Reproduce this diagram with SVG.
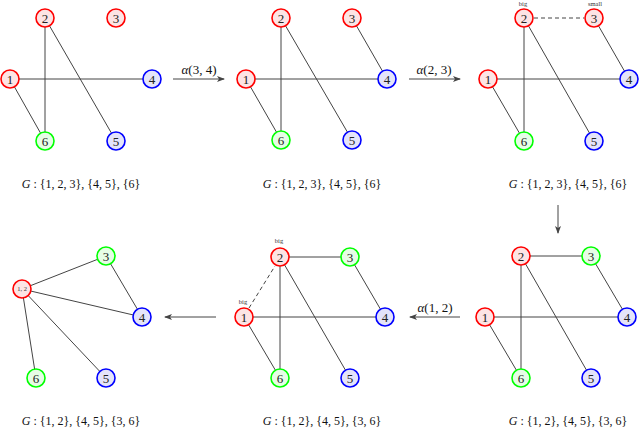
<svg xmlns="http://www.w3.org/2000/svg" width="640" height="429" viewBox="0 0 640 429">
<defs>
<style>
.e{stroke:#444;stroke-width:1;fill:none}
.d{stroke:#444;stroke-width:1;fill:none;stroke-dasharray:4,3}
.r{fill:#fde4e4;stroke:#f00;stroke-width:1.6}
.b{fill:#e4e4fa;stroke:#00f;stroke-width:1.6}
.g{fill:#e6fde6;stroke:#0f0;stroke-width:1.6}
.t{font-family:"Liberation Serif","DejaVu Serif",serif;font-size:13px;fill:#222;text-anchor:middle}
.s{font-family:"Liberation Serif","DejaVu Serif",serif;font-size:6.5px;fill:#333;text-anchor:middle}
.l{font-family:"Liberation Serif","DejaVu Serif",serif;font-size:12px;fill:#111;text-anchor:middle}
.al{font-family:"Liberation Serif","DejaVu Serif",serif;font-size:13px;fill:#111;text-anchor:middle}
.a{stroke:#444;stroke-width:1;fill:none;marker-end:url(#ah)}
</style>
<marker id="ah" viewBox="0 0 8 6" refX="7" refY="3" markerWidth="8" markerHeight="6" markerUnits="userSpaceOnUse" orient="auto">
<path d="M0,0 L8,3 L0,6 L2,3 Z" fill="#444"/>
</marker>
</defs>
<rect width="640" height="429" fill="#fff"/>
<g id="connectors">
<line class="e" x1="10" y1="79" x2="152" y2="79"/>
<line class="e" x1="10" y1="79" x2="45" y2="141"/>
<line class="e" x1="45" y1="18" x2="45" y2="141"/>
<line class="e" x1="45" y1="18" x2="116" y2="141"/>
<line class="e" x1="246" y1="79" x2="387" y2="79"/>
<line class="e" x1="246" y1="79" x2="281" y2="140"/>
<line class="e" x1="281" y1="18" x2="281" y2="140"/>
<line class="e" x1="281" y1="18" x2="352" y2="140"/>
<line class="e" x1="352" y1="18" x2="387" y2="79"/>
<line class="e" x1="488" y1="79" x2="629" y2="79"/>
<line class="e" x1="488" y1="79" x2="524" y2="141"/>
<line class="e" x1="524" y1="18" x2="524" y2="141"/>
<line class="e" x1="524" y1="18" x2="594" y2="141"/>
<line class="e" x1="594" y1="18" x2="629" y2="79"/>
<line class="d" x1="534" y1="18" x2="584" y2="18"/>
<line class="e" x1="485" y1="317" x2="627" y2="317"/>
<line class="e" x1="485" y1="317" x2="521" y2="378"/>
<line class="e" x1="521" y1="256" x2="521" y2="378"/>
<line class="e" x1="521" y1="256" x2="591" y2="378"/>
<line class="e" x1="591" y1="256" x2="627" y2="317"/>
<line class="e" x1="521" y1="256" x2="591" y2="256"/>
<line class="e" x1="244" y1="317" x2="385" y2="317"/>
<line class="e" x1="244" y1="317" x2="280" y2="378"/>
<line class="e" x1="280" y1="257" x2="280" y2="378"/>
<line class="e" x1="280" y1="257" x2="350" y2="378"/>
<line class="e" x1="350" y1="257" x2="385" y2="317"/>
<line class="e" x1="280" y1="257" x2="350" y2="257"/>
<line class="d" x1="249" y1="308" x2="275" y2="266"/>
<line class="e" x1="22" y1="289" x2="106" y2="256"/>
<line class="e" x1="22" y1="289" x2="142" y2="317"/>
<line class="e" x1="22" y1="289" x2="106" y2="378"/>
<line class="e" x1="22" y1="289" x2="36" y2="378"/>
<line class="e" x1="106" y1="256" x2="142" y2="317"/>
<line class="a" x1="173" y1="79" x2="224" y2="79"/>
<line class="a" x1="409" y1="79" x2="460" y2="79"/>
<line class="a" x1="558" y1="205" x2="558" y2="233"/>
<line class="a" x1="460" y1="317" x2="410" y2="317"/>
<line class="a" x1="216" y1="317" x2="165" y2="317"/>
</g>
<g id="arrow-labels">
<text class="al" x="199" y="74"><tspan font-style="italic">α</tspan>(3, 4)</text>
<text class="al" x="434" y="74"><tspan font-style="italic">α</tspan>(2, 3)</text>
<text class="al" x="435" y="312"><tspan font-style="italic">α</tspan>(1, 2)</text>
</g>
<g id="panel1">
<g id="p1n1"><circle class="r" cx="10" cy="79" r="9"/><text class="t" x="10" y="83.5">1</text></g>
<g id="p1n2"><circle class="r" cx="45" cy="18" r="9"/><text class="t" x="45" y="22.5">2</text></g>
<g id="p1n3"><circle class="r" cx="116" cy="18" r="9"/><text class="t" x="116" y="22.5">3</text></g>
<g id="p1n4"><circle class="b" cx="152" cy="79" r="9"/><text class="t" x="152" y="83.5">4</text></g>
<g id="p1n5"><circle class="b" cx="116" cy="141" r="9"/><text class="t" x="116" y="145.5">5</text></g>
<g id="p1n6"><circle class="g" cx="45" cy="141" r="9"/><text class="t" x="45" y="145.5">6</text></g>
<text class="l" x="81" y="188"><tspan font-style="italic">G</tspan> :  {1, 2, 3}, {4, 5}, {6}</text>
</g>
<g id="panel2">
<g id="p2n1"><circle class="r" cx="246" cy="79" r="9"/><text class="t" x="246" y="83.5">1</text></g>
<g id="p2n2"><circle class="r" cx="281" cy="18" r="9"/><text class="t" x="281" y="22.5">2</text></g>
<g id="p2n3"><circle class="r" cx="352" cy="18" r="9"/><text class="t" x="352" y="22.5">3</text></g>
<g id="p2n4"><circle class="b" cx="387" cy="79" r="9"/><text class="t" x="387" y="83.5">4</text></g>
<g id="p2n5"><circle class="b" cx="352" cy="140" r="9"/><text class="t" x="352" y="144.5">5</text></g>
<g id="p2n6"><circle class="g" cx="281" cy="140" r="9"/><text class="t" x="281" y="144.5">6</text></g>
<text class="l" x="322" y="188"><tspan font-style="italic">G</tspan> :  {1, 2, 3}, {4, 5}, {6}</text>
</g>
<g id="panel3">
<g id="p3n1"><circle class="r" cx="488" cy="79" r="9"/><text class="t" x="488" y="83.5">1</text></g>
<g id="p3n2"><circle class="r" cx="524" cy="18" r="9"/><text class="t" x="524" y="22.5">2</text></g>
<g id="p3n3"><circle class="r" cx="594" cy="18" r="9"/><text class="t" x="594" y="22.5">3</text></g>
<g id="p3n4"><circle class="b" cx="629" cy="79" r="9"/><text class="t" x="629" y="83.5">4</text></g>
<g id="p3n5"><circle class="b" cx="594" cy="141" r="9"/><text class="t" x="594" y="145.5">5</text></g>
<g id="p3n6"><circle class="g" cx="524" cy="141" r="9"/><text class="t" x="524" y="145.5">6</text></g>
<text class="s" x="523" y="6">big</text>
<text class="s" x="595" y="6">small</text>
<text class="l" x="568" y="188"><tspan font-style="italic">G</tspan> :  {1, 2, 3}, {4, 5}, {6}</text>
</g>
<g id="panel4">
<g id="p4n1"><circle class="r" cx="485" cy="317" r="9"/><text class="t" x="485" y="321.5">1</text></g>
<g id="p4n2"><circle class="r" cx="521" cy="256" r="9"/><text class="t" x="521" y="260.5">2</text></g>
<g id="p4n3"><circle class="g" cx="591" cy="256" r="9"/><text class="t" x="591" y="260.5">3</text></g>
<g id="p4n4"><circle class="b" cx="627" cy="317" r="9"/><text class="t" x="627" y="321.5">4</text></g>
<g id="p4n5"><circle class="b" cx="591" cy="378" r="9"/><text class="t" x="591" y="382.5">5</text></g>
<g id="p4n6"><circle class="g" cx="521" cy="378" r="9"/><text class="t" x="521" y="382.5">6</text></g>
<text class="l" x="568" y="425"><tspan font-style="italic">G</tspan> :  {1, 2}, {4, 5}, {3, 6}</text>
</g>
<g id="panel5">
<g id="p5n1"><circle class="r" cx="244" cy="317" r="9"/><text class="t" x="244" y="321.5">1</text></g>
<g id="p5n2"><circle class="r" cx="280" cy="257" r="9"/><text class="t" x="280" y="261.5">2</text></g>
<g id="p5n3"><circle class="g" cx="350" cy="257" r="9"/><text class="t" x="350" y="261.5">3</text></g>
<g id="p5n4"><circle class="b" cx="385" cy="317" r="9"/><text class="t" x="385" y="321.5">4</text></g>
<g id="p5n5"><circle class="b" cx="350" cy="378" r="9"/><text class="t" x="350" y="382.5">5</text></g>
<g id="p5n6"><circle class="g" cx="280" cy="378" r="9"/><text class="t" x="280" y="382.5">6</text></g>
<text class="s" x="279" y="243">big</text>
<text class="s" x="243" y="304">big</text>
<text class="l" x="322" y="425"><tspan font-style="italic">G</tspan> :  {1, 2}, {4, 5}, {3, 6}</text>
</g>
<g id="panel6">
<g id="p6n12"><circle class="r" cx="22" cy="289" r="9"/><text class="s" x="22" y="291">1, 2</text></g>
<g id="p6n3"><circle class="g" cx="106" cy="256" r="9"/><text class="t" x="106" y="260.5">3</text></g>
<g id="p6n4"><circle class="b" cx="142" cy="317" r="9"/><text class="t" x="142" y="321.5">4</text></g>
<g id="p6n5"><circle class="b" cx="106" cy="378" r="9"/><text class="t" x="106" y="382.5">5</text></g>
<g id="p6n6"><circle class="g" cx="36" cy="378" r="9"/><text class="t" x="36" y="382.5">6</text></g>
<text class="l" x="81" y="425"><tspan font-style="italic">G</tspan> :  {1, 2}, {4, 5}, {3, 6}</text>
</g>
</svg>
